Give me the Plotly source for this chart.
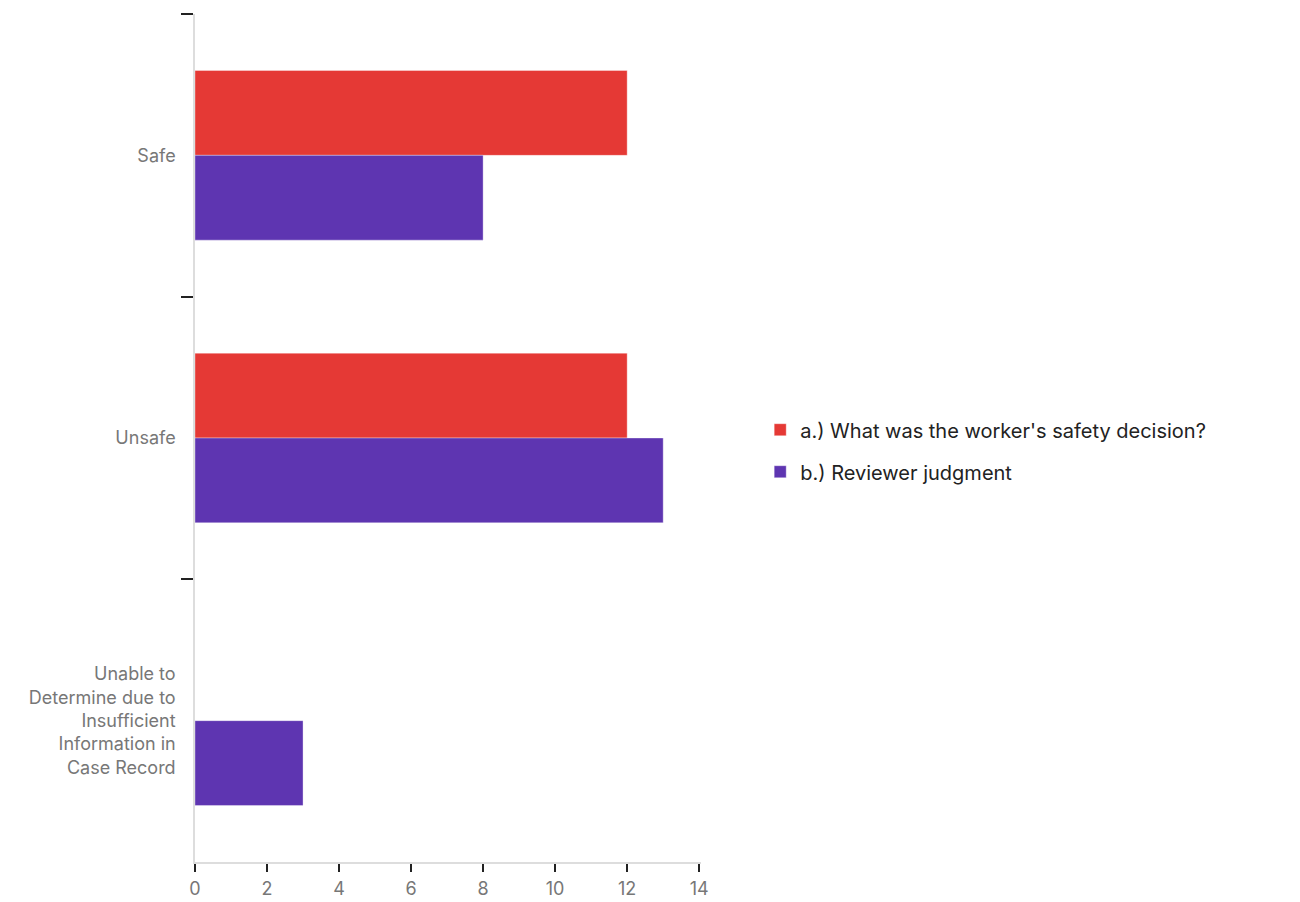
import plotly.graph_objects as go

categories = [
    "Safe",
    "Unsafe",
    "Unable to<br>Determine due to<br>Insufficient<br>Information in<br>Case Record",
]
series_a_name = "a.) What was the worker's safety decision?"
series_a = [12, 12, 0]
series_b_name = "b.) Reviewer judgment"
series_b = [8, 13, 3]
x_ticks = [0, 2, 4, 6, 8, 10, 12, 14]

fig = go.Figure()
fig.add_trace(go.Bar(
    y=categories, x=series_a, name=series_a_name, orientation="h", legendgroup="a",
    marker=dict(color="#E53935", line=dict(color="rgba(255,255,255,0.35)", width=1)),
))
fig.add_trace(go.Bar(
    y=categories, x=series_b, name=series_b_name, orientation="h", legendgroup="b",
    marker=dict(color="#5E35B1", line=dict(color="rgba(255,255,255,0.35)", width=1)),
))

fig.update_layout(
    width=1292, height=894,
    barmode="group", bargap=0.4, bargroupgap=0,
    plot_bgcolor="white", paper_bgcolor="white",
    margin=dict(l=187, r=599, t=6, b=40),
    font=dict(family="Inter, Noto Sans, sans-serif", color="#777777", size=18),
    legend=dict(
        x=1.117, y=0.485, xanchor="left", yanchor="middle",
        font=dict(size=20, color="#222222"),
        tracegroupgap=13, itemwidth=30,
    ),
    showlegend=True,
)
fig.update_xaxes(
    range=[0, 14.05], tickvals=x_ticks, ticktext=[str(v) for v in x_ticks],
    showgrid=False, zeroline=False, automargin=False,
    showline=True, linecolor="#dddddd", linewidth=1.5,
    ticks="outside", ticklen=8, tickwidth=1.5, tickcolor="#222222",
    tickfont=dict(size=18, color="#777777"),
    ticklabelstandoff=2,
)
fig.update_yaxes(
    autorange="reversed", type="category",
    showgrid=False, zeroline=False, automargin=False,
    showline=True, linecolor="#dddddd", linewidth=1.5,
    ticks="outside", tickson="boundaries", ticklen=12, tickwidth=1.5, tickcolor="#222222",
    tickfont=dict(size=18, color="#777777"),
    ticklabelstandoff=14,
)

fig.write_html("out.html")
